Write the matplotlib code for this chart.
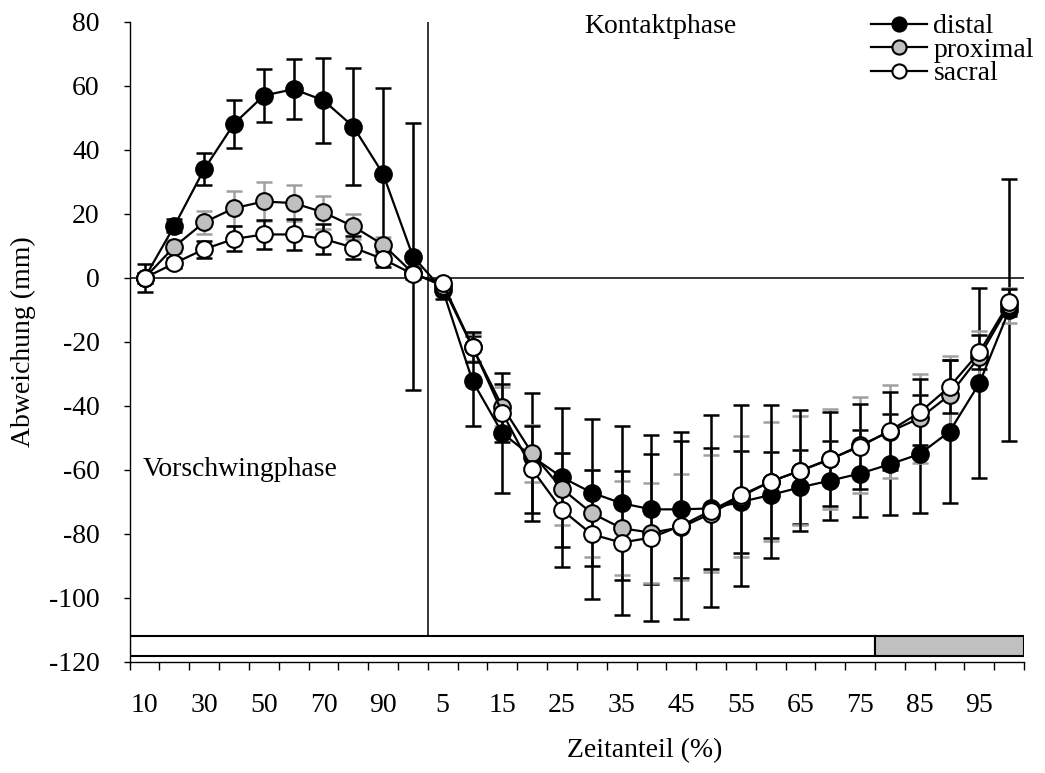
import numpy as np
import matplotlib
matplotlib.use("Agg")
import matplotlib.pyplot as plt
from matplotlib.patches import Rectangle

# =======================
# DATA
# =======================
swing_pct = [10, 20, 30, 40, 50, 60, 70, 80, 90, 100]
contact_pct = [5, 10, 15, 20, 25, 30, 35, 40, 45, 50,
               55, 60, 65, 70, 75, 80, 85, 90, 95, 100]
categories = [str(v) for v in swing_pct + contact_pct]

distal = [0, 16.3, 34, 48.2, 57, 59, 55.5, 47.3, 32.5, 6.7,
          -3.7, -32.2, -48.5, -55.8, -62.3, -67.1, -70.4, -72.3, -72.3, -72,
          -70, -67.8, -65.4, -63.3, -61.1, -58.2, -55, -48, -32.9, -10]
distal_err = [4.3, 2, 5, 7.5, 8.3, 9.4, 13.3, 18.3, 27, 41.7,
              3, 14, 18.7, 20, 21.8, 23, 24, 23.2, 21.4, 18.8,
              16, 13.5, 11.5, 12.4, 13.5, 15.8, 18.3, 22.3, 29.7, 41]

proximal = [0, 9.8, 17.4, 21.8, 23.9, 23.4, 20.5, 16.1, 10.4, 1.5,
            -2.5, -21.7, -40.2, -54.8, -65.9, -73.5, -78.2, -79.6, -77.9, -73.6,
            -68.3, -63.6, -60.2, -56.7, -52.3, -48, -43.8, -36.6, -24.6, -8.5]
proximal_err = [1.5, 2, 3.6, 5.5, 6, 5.6, 5.1, 4, 2.5, 1.5,
                1.5, 4.2, 6, 9, 11.3, 13.6, 14.7, 15.6, 16.5, 18.3,
                19, 18.5, 17, 15.6, 15, 14.4, 13.9, 12.2, 8.1, 5.5]

sacral = [0, 4.6, 9, 12.2, 13.6, 13.6, 12.2, 9.5, 5.9, 1.2,
          -1.7, -21.5, -42.1, -59.8, -72.5, -80.1, -82.7, -81.1, -77.4, -72.7,
          -67.9, -63.6, -60.2, -56.5, -52.7, -47.7, -42, -34, -23.2, -7.6]
sacral_err = [1.5, 1.5, 2.7, 3.9, 4.6, 4.8, 4.6, 3.6, 2.5, 1.5,
              1.5, 4.7, 9, 13.7, 17.7, 20.2, 22.5, 26, 29.2, 30,
              28.2, 24, 19, 14.7, 13.3, 12.2, 10.3, 8.3, 5.4, 4.3]

# phase bar at the bottom: number of categories per segment and its fill
bar_segments = [25, 5]
bar_colors = ["white", "#c0c0c0"]
bar_range = (-118, -112)

# =======================
# STYLE
# =======================
plt.rcParams["font.family"] = ["Liberation Serif", "DejaVu Serif"]
plt.rcParams["font.size"] = 20
plt.rcParams["axes.unicode_minus"] = False

fig = plt.figure(figsize=(10.45, 7.73), dpi=100)
ax = fig.add_axes([0.1241, 0.1436, 0.8559, 0.828])

x = np.arange(1, len(categories) + 1)
series = [
    ("distal", distal, distal_err, "black", "black"),
    ("proximal", proximal, proximal_err, "#c0c0c0", "#a0a0a0"),
    ("sacral", sacral, sacral_err, "white", "black"),
]

# error bars first, lines and markers on top
for name, y, err, fc, ec in series:
    ax.errorbar(x, y, yerr=err, fmt="none", ecolor=ec, elinewidth=1.8,
                capsize=5.5, capthick=1.8, zorder=2)
for name, y, err, fc, ec in series:
    ax.plot(x, y, "-o", color="black", lw=1.6, ms=12, mfc=fc, mec="black",
            mew=1.5, zorder=3, label=name)

# axis cross lines
x0, x1 = 0.5, len(categories) + 0.5
ax.plot([x0, x1], [0, 0], color="black", lw=1.1, zorder=1)
split = len(swing_pct) + 0.5
ax.plot([split, split], [bar_range[1], 80], color="black", lw=1.1, zorder=1)

# phase bar
left = x0
for n, c in zip(bar_segments, bar_colors):
    ax.add_patch(Rectangle((left, bar_range[0]), n, bar_range[1] - bar_range[0],
                           facecolor=c, edgecolor="black", lw=1.5, zorder=2))
    left += n

ax.set_xlim(x0, x1)
ax.set_ylim(-120, 80)
ax.set_yticks(np.arange(-120, 81, 20))
ax.set_xticks(np.arange(x0, x1 + 0.1, 1))
ax.set_xticklabels([])
ax.set_xticks(x[::2], minor=True)
ax.set_xticklabels(categories[::2], minor=True)
ax.tick_params(axis="x", which="major", direction="out", length=6, width=1)
ax.tick_params(axis="x", which="minor", length=0, pad=22)
ax.tick_params(axis="y", direction="out", length=4.5, width=1, pad=17)

for s in ["top", "right"]:
    ax.spines[s].set_visible(False)
for s in ["left", "bottom"]:
    ax.spines[s].set_linewidth(1.0)

ax.set_ylabel("Abweichung (mm)")
ax.yaxis.set_label_coords(-0.105, 0.5)
ax.set_xlabel("Zeitanteil (%)")
ax.xaxis.set_label_coords(0.576, -0.119)

ax.text(18.3, 76.6, "Kontaktphase", ha="center", va="baseline", clip_on=False)
ax.text(4.2, -61.9, "Vorschwingphase", ha="center", va="baseline")

ax.legend(loc="upper left", bbox_to_anchor=(871 / 1045, 1 - 14 / 773),
          bbox_transform=fig.transFigure, frameon=False, handlelength=2.0,
          handletextpad=0.25, borderpad=0, borderaxespad=0, labelspacing=-0.07,
          markerscale=0.85)

fig.savefig("out.png", dpi=100)
